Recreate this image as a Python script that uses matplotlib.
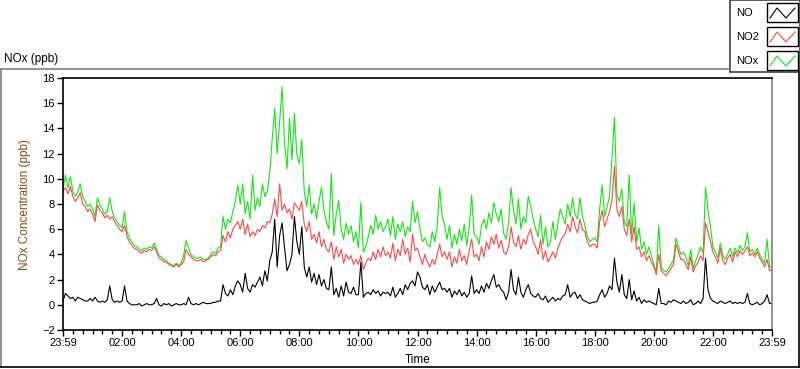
import numpy as np
import matplotlib.pyplot as plt
from matplotlib.lines import Line2D
from matplotlib.patches import Rectangle

plt.rcParams["font.family"] = ["Liberation Sans", "DejaVu Sans"]

# Readings every 5 minutes, one row per hour (23:59 -> 23:59)
sample_minutes = 5

no_ppb = [
    0.3, 0.9, 0.7, 0.5, 0.6, 0.3, 0.6, 0.5, 0.4, 0.3, 0.3, 0.5,
    0.3, 0.6, 0.3, 0.2, 0.3, 0.2, 0.4, 1.5, 0.4, 0.2, 0.3, 0.2,
    0.3, 1.5, 0.3, 0.1, 0.0, 0.0, 0.0, 0.1, -0.1, 0.0, 0.1, 0.0,
    0.0, 0.1, 0.5, 0.0, -0.1, 0.1, 0.0, 0.1, -0.1, 0.0, 0.1, 0.0,
    0.0, 0.1, 0.0, 0.6, 0.1, 0.0, 0.1, 0.0, 0.1, 0.2, 0.1, 0.1,
    0.1, 0.2, 0.2, 0.3, 0.3, 1.6, 0.9, 0.7, 1.2, 0.8, 1.5, 1.9,
    1.6, 1.0, 2.5, 1.3, 1.0, 1.6, 1.4, 1.8, 2.2, 1.5, 2.7, 1.9,
    3.5, 4.2, 6.8, 3.0, 5.5, 6.5, 4.5, 2.7, 3.2, 4.0, 7.0, 5.0,
    4.0, 6.2, 3.0, 2.2, 3.0, 1.8, 2.5, 1.6, 2.4, 1.5, 2.0, 1.3,
    1.2, 3.0, 0.8, 1.3, 0.6, 1.5, 0.7, 1.8, 1.0, 0.9, 1.4, 0.8,
    0.8, 3.4, 0.6, 0.9, 1.0, 0.8, 1.2, 0.9, 1.1, 0.7, 1.0, 0.9,
    1.0, 0.7, 1.4, 0.6, 0.9, 1.3, 0.8, 1.6, 1.2, 1.7, 1.9, 1.5,
    2.6, 2.2, 1.4, 1.2, 1.6, 0.8, 1.5, 1.0, 1.4, 1.8, 1.2, 1.3,
    1.0, 1.3, 0.6, 1.1, 0.8, 1.2, 0.7, 1.0, 0.6, 0.9, 2.3, 0.9,
    1.2, 0.9, 1.5, 1.0, 1.7, 1.3, 1.9, 2.4, 1.4, 1.6, 1.2, 1.0,
    0.4, 1.0, 2.8, 1.2, 0.8, 2.2, 1.0, 0.6, 1.2, 1.6, 0.9, 0.7,
    0.6, 0.9, 0.5, 0.4, 0.7, 0.2, 0.4, 0.6, 0.3, 0.5, 0.4, 0.7,
    0.8, 1.6, 0.6, 0.9, 1.0, 0.5, 0.8, 0.4, 0.3, 0.2, 0.1, 0.2,
    0.2, 0.3, 0.8, 1.2, 0.6, 0.9, 1.5, 1.2, 3.7, 1.8, 1.0, 2.4,
    0.8, 0.5, 2.0, 0.4, 1.1, 0.3, 0.6, 0.1, 0.4, 0.2, 0.3, 0.2,
    0.1, 0.0, 1.3, 0.1, 0.1, 0.0, 0.3, 0.2, 0.4, 0.3, 0.2, 0.1,
    0.3, 0.1, 0.2, 0.4, 0.0, 0.1, 0.3, 0.1, 0.5, 3.7, 1.2, 0.5,
    0.3, 0.2, 0.1, 0.3, 0.2, 0.1, 0.2, 0.3, 0.1, 0.2, 0.1, 0.2,
    0.1, 0.2, 0.9, 0.1, 0.0, 0.1, 0.2, 0.0, 0.1, 0.3, 0.8, 0.1,
    0.1,
]

no2_ppb = [
    9.0, 9.3, 8.8, 9.4, 8.6, 8.2, 8.5, 8.9, 8.0, 7.8, 7.4, 7.6,
    7.2, 6.6, 7.9, 7.5, 7.3, 6.9, 7.1, 6.8, 7.0, 6.6, 6.3, 6.0,
    5.8, 6.3, 5.4, 5.0, 4.7, 4.5, 4.4, 4.2, 4.1, 4.3, 4.2, 4.4,
    4.3, 4.6, 4.2, 3.7, 3.6, 3.4, 3.4, 3.2, 3.1, 3.0, 3.2, 3.0,
    3.2, 3.4, 4.4, 4.0, 3.8, 3.6, 3.5, 3.5, 3.6, 3.4, 3.5, 3.6,
    3.8, 4.0, 3.9, 4.2, 4.3, 5.5, 5.0, 5.8, 5.3, 6.0, 6.3, 6.6,
    6.0, 6.8, 5.6, 6.4, 5.4, 5.8, 5.5, 6.0, 5.8, 6.3, 6.1, 6.6,
    6.5, 7.2, 8.4, 7.0, 9.6, 7.5, 8.0, 7.3, 7.6, 6.8, 8.1, 7.8,
    7.5, 8.2, 6.4, 5.8, 6.6, 5.2, 5.6, 4.9, 5.8, 4.6, 5.2, 4.4,
    4.2, 5.0, 3.6, 4.6, 3.8, 4.4, 3.3, 4.0, 3.6, 3.9, 3.2, 3.6,
    3.2, 3.9, 2.8, 3.3, 3.7, 3.5, 4.2, 3.6, 4.4, 3.8, 4.6, 3.9,
    4.2, 3.7, 4.9, 3.5, 4.4, 3.9, 5.2, 4.0, 4.5, 3.4, 5.6, 4.3,
    4.5, 3.8, 3.2, 4.0, 3.4, 3.0, 3.6, 3.2, 4.0, 4.8, 3.8, 4.2,
    3.6, 4.2, 3.0, 3.8, 3.3, 4.4, 3.5, 3.9, 3.2, 4.3, 5.2, 3.8,
    4.0, 3.5, 4.6, 3.8, 5.0, 4.4, 5.4, 4.8, 5.6, 4.5, 5.1, 4.2,
    4.0, 4.6, 6.2, 5.0, 4.6, 5.5, 4.4, 5.2, 4.8, 5.6, 6.0, 5.0,
    4.6, 4.0, 5.2, 3.6, 4.3, 3.4, 3.8, 4.2, 3.7, 4.5, 5.0, 5.4,
    5.6, 6.4, 5.8, 7.0, 6.2, 5.7, 6.8, 6.0, 5.8, 5.0, 4.6, 4.8,
    4.8, 4.5, 6.6, 7.5, 6.2, 6.8, 7.4, 8.3, 11.0, 7.6, 7.0, 7.8,
    6.0, 5.5, 6.8, 5.0, 6.2, 4.4, 4.6, 3.8, 4.2, 3.5, 3.9, 3.4,
    3.0, 2.4, 4.0, 2.7, 2.5, 2.3, 2.6, 2.9, 3.2, 4.8, 4.2, 3.6,
    3.6, 3.2, 2.8, 3.8, 2.6, 3.1, 3.4, 3.9, 3.5, 6.5, 5.8, 5.0,
    4.2, 3.8, 3.3, 4.5, 3.5, 3.2, 3.7, 4.0, 3.4, 4.2, 3.8, 4.3,
    4.0, 4.3, 4.6, 3.9, 4.1, 3.8, 4.2, 3.7, 3.4, 3.0, 3.6, 2.7,
    2.8,
]

nox_ppb = [
    9.2, 10.3, 9.3, 10.2, 9.0, 8.6, 9.0, 9.6, 8.6, 8.2, 7.8, 8.0,
    7.6, 7.0, 8.5, 7.9, 7.6, 7.2, 7.4, 8.5, 7.4, 6.9, 6.6, 6.3,
    6.1, 7.4, 5.8, 5.3, 5.0, 4.7, 4.6, 4.4, 4.3, 4.5, 4.4, 4.6,
    4.5, 4.9, 4.4, 3.9, 3.8, 3.6, 3.5, 3.3, 3.2, 3.1, 3.3, 3.1,
    3.3, 3.9, 5.1, 4.5, 4.0, 3.8, 3.7, 3.7, 3.8, 3.6, 3.6, 3.7,
    4.0, 4.2, 4.1, 4.5, 4.6, 7.0, 6.0, 6.8, 6.5, 7.4, 8.2, 9.5,
    8.0, 9.6, 7.2, 8.2, 6.8, 10.3, 7.5, 8.5, 7.8, 9.6, 8.6, 9.0,
    10.5, 13.2, 15.6, 12.0, 14.5, 17.3, 12.8, 10.8, 14.8, 11.5, 15.2, 11.9,
    11.2, 13.1, 9.0, 7.8, 9.5, 7.2, 8.0, 6.8, 8.2, 9.3, 7.5, 6.6,
    6.0, 10.4, 5.5, 7.2, 8.3, 6.0, 5.2, 6.5, 5.6, 6.3, 5.0, 5.8,
    4.5, 8.1, 4.2, 4.6, 5.4, 6.3, 5.6, 7.1, 6.0, 6.6, 5.8, 6.2,
    6.8, 5.5, 7.0, 5.2, 6.4, 5.8, 6.6, 5.4, 6.2, 5.8, 8.2, 6.5,
    7.4, 6.0, 5.0, 5.3, 4.8, 4.6, 5.8, 5.0, 6.2, 9.3, 7.0, 6.4,
    5.2, 6.3, 4.5, 5.6, 4.8, 6.0, 5.1, 6.4, 4.7, 6.2, 8.7, 5.6,
    5.4, 4.8, 6.3, 6.8, 6.0, 7.3, 6.5, 8.1, 7.2, 6.6, 7.6, 5.7,
    5.2, 6.5, 9.3, 7.5, 6.4, 8.4, 6.0, 7.0, 6.5, 8.6, 7.8, 6.8,
    6.0, 5.4, 7.1, 4.8, 6.2, 4.6, 5.0, 6.6, 5.2, 6.4, 7.6, 7.0,
    6.4, 8.0, 7.0, 8.5, 7.2, 6.8, 8.5, 7.0, 6.3, 5.4, 5.0, 5.2,
    5.3, 5.0, 7.6, 9.5, 7.0, 7.8, 8.6, 11.6, 14.9, 8.8, 8.2, 9.2,
    6.6, 6.2, 10.3, 5.6, 8.1, 5.0, 6.1, 4.4, 5.0, 4.0, 4.6, 3.9,
    3.2, 2.6, 6.3, 3.0, 2.7, 2.6, 2.9, 3.2, 3.6, 5.3, 4.6, 4.0,
    4.2, 3.8, 3.1, 4.4, 2.9, 3.5, 4.0, 4.6, 4.1, 9.3, 7.5, 6.2,
    4.6, 4.2, 3.7, 4.9, 3.9, 3.6, 4.0, 4.5, 3.8, 4.5, 4.1, 4.7,
    4.3, 4.6, 5.7, 4.2, 4.4, 4.0, 4.5, 4.0, 3.6, 3.3, 5.2, 3.0,
    3.0,
]

x_tick_labels = ["23:59", "02:00", "04:00", "06:00", "08:00", "10:00", "12:00",
                 "14:00", "16:00", "18:00", "20:00", "22:00", "23:59"]
legend_names = ["NO", "NO2", "NOx"]

green = "#12e812"
red = "#ff4848"
W, H = 800, 369


def fx(x):
    return x / W


def fy(y):
    return 1 - y / H


hours = np.arange(len(no_ppb)) * sample_minutes / 60.0

fig = plt.figure(figsize=(8, 3.69), dpi=100)
ax = fig.add_axes([fx(63), fy(330), (772 - 63) / W, (330 - 78) / H])

ax.plot(hours, nox_ppb, color=green, lw=0.8)
ax.plot(hours, no2_ppb, color=red, lw=0.8)
ax.plot(hours, no_ppb, color="black", lw=0.8)

ax.set_xlim(0, 24)
ax.set_ylim(-2, 18)
ax.set_xticks(np.arange(0, 25, 2))
ax.set_xticklabels(x_tick_labels)
ax.set_xticks(np.arange(0, 24.01, 1 / 3), minor=True)
ax.set_yticks(np.arange(-2, 19, 2))
ax.tick_params(direction="out", length=4, width=1, labelsize=8, pad=2)
ax.tick_params(which="minor", direction="out", length=3, width=1)
for s in ["left", "bottom", "top"]:
    ax.spines[s].set_color("black")
    ax.spines[s].set_linewidth(1.2)
ax.spines["right"].set_color("#808080")
ax.spines["right"].set_linewidth(1.2)

ax.set_xlabel("Time", fontsize=8.5, labelpad=4)
ax.set_ylabel("NOx Concentration (ppb)", fontsize=8.5, color="#8a4a10")
ax.yaxis.set_label_coords(-0.045, 0.5)

# outer frame
fig.text(fx(4), fy(59), "NOx (ppb)", fontsize=8.5, va="center", ha="left")
fig.add_artist(Line2D([fx(0), fx(730)], [fy(69), fy(69)], color="#808080", lw=1.2))
fig.add_artist(Line2D([fx(0.5), fx(0.5)], [fy(69), fy(367)], color="#808080", lw=1.2))
fig.add_artist(Line2D([fx(0), fx(799)], [fy(367), fy(367)], color="black", lw=1.2))
fig.add_artist(Line2D([fx(798.5), fx(798.5)], [fy(72), fy(367)], color="black", lw=1.2))

# legend
fig.add_artist(Rectangle((fx(730), fy(72)), fx(70), 72 / H, fill=False,
                         edgecolor="#404040", lw=1.2))
for i, (name, c) in enumerate(zip(legend_names, ["black", red, green])):
    y0 = 3 + 24 * i
    fig.text(fx(736), fy(y0 + 10), name, fontsize=8, va="center", ha="left")
    fig.add_artist(Rectangle((fx(767), fy(y0 + 19)), fx(31), 19 / H, fill=False,
                             edgecolor="black", lw=1))
    fig.add_artist(Line2D([fx(770), fx(777), fx(786), fx(795)],
                          [fy(y0 + 15), fy(y0 + 5), fy(y0 + 15), fy(y0 + 5)],
                          color=c, lw=0.8))

fig.savefig("out.png", dpi=100)
